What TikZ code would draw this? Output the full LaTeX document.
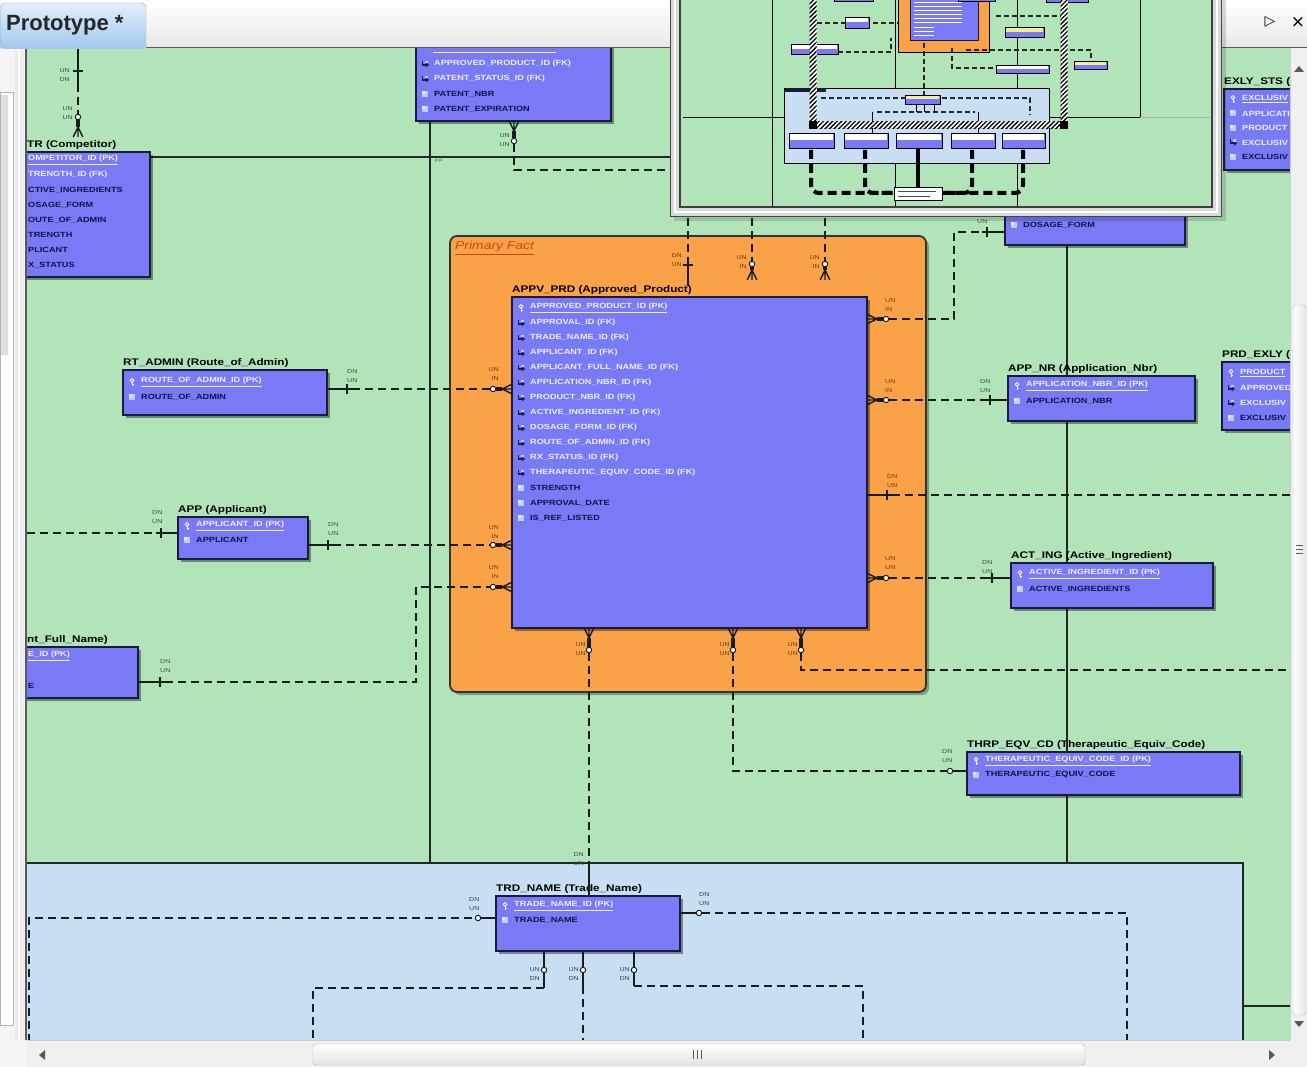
\documentclass[tikz,border=0pt]{standalone}
\usepackage{fontspec}
\setmainfont{Liberation Sans}
\newfontfamily\tf[FakeStretch=1.22]{Liberation Sans}
\newfontfamily\symf{DejaVu Sans}
\usetikzlibrary{patterns.meta}
\definecolor{canvasg}{RGB}{178,228,186}
\definecolor{areab}{RGB}{200,222,242}
\definecolor{pforange}{RGB}{250,162,72}
\definecolor{tblblue}{RGB}{122,122,246}
\definecolor{tblborder}{RGB}{26,26,58}
\definecolor{keytxt}{RGB}{238,238,255}
\definecolor{attrtxt}{RGB}{18,18,70}
\definecolor{lblg}{RGB}{60,78,62}
\definecolor{lblo}{RGB}{125,55,15}
\definecolor{lblb}{RGB}{55,65,85}
\definecolor{linec}{RGB}{24,28,30}
\definecolor{pftext}{RGB}{205,70,20}
\definecolor{attrc}{RGB}{184,208,250}
\definecolor{fkc}{RGB}{30,30,70}
\definecolor{pkc}{RGB}{250,245,200}
\definecolor{navyellow}{RGB}{240,238,150}
\definecolor{tabtop}{RGB}{226,240,252}
\definecolor{tabbot}{RGB}{160,200,236}
\definecolor{sbc}{RGB}{240,240,240}
\newcounter{lblc}
\def\errstep{15}
\tikzset{
  tblbox/.style={draw=tblborder,line width=1.9,fill=tblblue,anchor=north west,inner sep=0pt,outer sep=0pt},
  rowt/.style={anchor=west,inner sep=0pt,font=\tf\bfseries\fontsize{7.5}{8}\selectfont},
  ttl/.style={anchor=south west,inner sep=0pt,font=\tf\bfseries\fontsize{9.6}{10}\selectfont,text=black},
  lblt/.style={inner sep=0pt,font=\tf\fontsize{5.8}{9}\selectfont},
  rel/.style={line width=1.4,draw=linec},
  reld/.style={rel,dash pattern=on 8pt off 5pt},
  sline/.style={line width=1.3,draw=black!85},
  shadowc/.style={fill=black,opacity=0.4},
  nline/.style={line width=0.9,draw=black},
  ndash/.style={line width=1.3,draw=black!85,dash pattern=on 5pt off 3pt},
  nthick/.style={line width=4,draw=black,dash pattern=on 9pt off 5pt},
}
\newcommand{\pkico}[2]{%
  \begin{scope}[shift={({#1},{#2})}]
    \draw[pkc,line width=0.9] (0,-1.6) circle (1.8);
    \draw[pkc,line width=1] (0,0.3) -- (0,4) (0,2.6) -- (1.6,2.6);
  \end{scope}}
\newcommand{\fkico}[2]{%
  \begin{scope}[shift={({#1},{#2})}]
    \fill[fkc] (-3.5,-3) rectangle (-1.8,1.8);
    \fill[fkc] (-3.5,0) rectangle (1.5,1.8);
    \fill[fkc] (1,-1.5) -- (4,0.9) -- (1,3.3) -- cycle;
    \fill[attrc] (0,-3.4) rectangle (3.2,-0.9);
  \end{scope}}
\newcommand{\atico}[2]{%
  \begin{scope}[shift={({#1},{#2})}]
    \fill[attrc] (-3,-3) rectangle (3,3);
    \fill[white,opacity=0.6] (-3,-3) rectangle (0,0);
  \end{scope}}
\newcommand{\ertrk}[4]{\node[rowt,text=keytxt] (#1) at ({#2+18},{#3}) {\underline{#4}};\pkico{#2+9}{#3}}
\newcommand{\ertrf}[4]{\node[rowt,text=keytxt] (#1) at ({#2+18},{#3}) {#4};\fkico{#2+9}{#3}}
\newcommand{\ertra}[4]{\node[rowt,text=attrtxt] (#1) at ({#2+18},{#3}) {#4};\atico{#2+9}{#3}}
\newcommand{\ertrw}[4]{\node[rowt,text=keytxt] (#1) at ({#2+18},{#3}) {#4};\atico{#2+9}{#3}}
% name, x, y, w, h, title, first row offset, rows
\newcommand{\ertable}[8]{%
  \fill[shadowc] ({#2+3},{#3+3}) rectangle ({#2+#4+3},{#3+#5+3});
  \node[tblbox,minimum width=#4,minimum height=#5] (#1) at (#2,#3) {};
  \node[ttl] (#1-t) at ({max(#2,27)},{#3-2.5}) {#6};
  \foreach \ty/\tx [count=\i] in {#8} {%
    \pgfmathsetmacro\ry{#3+#7+\errstep*(\i-1)}%
    \csname ertr\ty\endcsname{#1-r\i}{#2}{\ry}{\tx}%
  }}
\newcommand{\crowsym}[4]{%
  \begin{scope}[shift={(#1,#2)},rotate=#3]
    \draw[line width=1.4,linec] ({#4-10},0) -- (#4,-4.8) ({#4-10},0) -- (#4,0) ({#4-10},0) -- (#4,4.8);
    \fill[linec] (2.5,-2.4) rectangle ({#4-10},2.4);
    \draw[line width=1,linec,fill=white] (0,0) circle (2.7);
  \end{scope}}
\newcommand{\tkv}[2]{\draw[line width=1.4,linec] (#1,{#2-5}) -- (#1,{#2+5});}
\newcommand{\tkh}[2]{\draw[line width=1.4,linec] ({#1-5},#2) -- ({#1+5},#2);}
\newcommand{\optc}[2]{\draw[line width=1,linec,fill=white] (#1,#2) circle (2.7);}
\newcommand{\lblL}[5]{\stepcounter{lblc}\node[lblt,align=left,anchor=north west,text=#5] (lb\arabic{lblc}) at (#1,{#2-3}) {#3\\#4};}
\newcommand{\lblR}[5]{\stepcounter{lblc}\node[lblt,align=right,anchor=north east,text=#5] (lb\arabic{lblc}) at (#1,{#2-3}) {#3\\#4};}
\newcommand{\navtbl}[5]{\draw[black,line width=0.8,fill=tblblue] (#1,#2) rectangle (#3,#4);\fill[#5] ({#1+1},{#2+1}) rectangle ({#3-1},{(#2+#4)/2});}

\begin{document}
\begin{tikzpicture}[x=1pt,y=-1pt]
\useasboundingbox (0,0) rectangle (1307,1067);
% canvas
\fill[canvasg] (27,48) rectangle (1290,1040);
\fill[areab] (27,863) rectangle (1243,1040);
\draw[sline] (27,863) -- (1243,863) -- (1243,1040);
\draw[sline] (1243,1006) -- (1290,1006);
\draw[sline] (430,121) -- (430,863);
\draw[sline] (150,157) -- (700,157);
\draw[sline] (1067,245) -- (1067,863);
\node[lblt,anchor=west,text=lblg,font=\tf\fontsize{4}{4}\selectfont] (pp) at (435,161) {p.p};
% primary fact group
\fill[black,opacity=0.3,rounded corners=7] (453,239) rectangle (929,695);
\draw[line width=1.8,draw=black!80,fill=pforange,rounded corners=7] (450,236) rectangle (926,692);
\node[anchor=west,inner sep=0pt,font=\tf\itshape\fontsize{11.4}{12}\selectfont,text=pftext] (pflbl) at (455,248) {\underline{Primary Fact}};

% connectors (lines)
\coordinate (tlfree) at (78,48);
\draw[rel] (tlfree) -- (78,84);
\draw[reld] (78,84) -- (78,114);
\draw[reld] (514,144) -- (514,170) -- (700,170);
\coordinate (applfree) at (27,533);
\draw[reld] (applfree) -- (156,533);
\draw[reld] (165,682) -- (416,682) -- (416,587) -- (491,587);
\draw[reld] (352,389) -- (491,389);
\draw[reld] (333,545) -- (491,545);
\draw[reld] (889,319) -- (954,319) -- (954,232) -- (982,232);
\draw[reld] (889,400) -- (985,400);
\draw[reld] (892,495) -- (1292,495);
\draw[reld] (889,578) -- (987,578);
\draw[reld] (688,205) -- (688,258);
\draw[rel] (688,258) -- (688,286);
\draw[reld] (752,205) -- (752,261);
\draw[reld] (825,205) -- (825,261);
\draw[reld] (589,653) -- (589,868);
\draw[reld] (733,653) -- (733,771) -- (947,771);
\draw[reld] (801,653) -- (801,670) -- (1292,670);
\draw[reld] (29,1042) -- (29,918) -- (475,918);
\draw[reld] (702,913) -- (1127,913) -- (1127,1042);
\draw[reld] (544,988) -- (313,988) -- (313,1042);
\draw[reld] (583,986) -- (583,1042);
\draw[reld] (634,986) -- (863,986) -- (863,1042);

% tables
\ertable{cmptr}{10}{152}{140}{125}{TR (Competitor)}{8}{k/OMPETITOR\_ID (PK),f/TRENGTH\_ID (FK),a/CTIVE\_INGREDIENTS,a/OSAGE\_FORM,a/OUTE\_OF\_ADMIN,a/TRENGTH,a/PLICANT,a/X\_STATUS}
\ertable{patent}{416}{30}{195}{91}{}{34}{f/APPROVED\_PRODUCT\_ID (FK),f/PATENT\_STATUS\_ID (FK),a/PATENT\_NBR,a/PATENT\_EXPIRATION}
\draw[keytxt,line width=0.8] (433,52) -- (556,52);
\ertable{rtadmin}{123}{370}{204}{45}{RT\_ADMIN (Route\_of\_Admin)}{12}{k/ROUTE\_OF\_ADMIN\_ID (PK),a/ROUTE\_OF\_ADMIN}
\def\errstep{14}
\ertable{app}{178}{517}{130}{42}{APP (Applicant)}{9}{k/APPLICANT\_ID (PK),a/APPLICANT}
\def\errstep{15}
\ertable{appfn}{10}{647}{128}{51}{nt\_Full\_Name)}{9}{k/E\_ID (PK),a/,a/E}
\ertable{appv}{512}{297}{355}{331}{APPV\_PRD (Approved\_Product)}{11}{k/APPROVED\_PRODUCT\_ID (PK),f/APPROVAL\_ID (FK),f/TRADE\_NAME\_ID (FK),f/APPLICANT\_ID (FK),f/APPLICANT\_FULL\_NAME\_ID (FK),f/APPLICATION\_NBR\_ID (FK),f/PRODUCT\_NBR\_ID (FK),f/ACTIVE\_INGREDIENT\_ID (FK),f/DOSAGE\_FORM\_ID (FK),f/ROUTE\_OF\_ADMIN\_ID (FK),f/RX\_STATUS\_ID (FK),f/THERAPEUTIC\_EQUIV\_CODE\_ID (FK),a/STRENGTH,a/APPROVAL\_DATE,a/IS\_REF\_LISTED}
\ertable{dosage}{1005}{185}{180}{60}{}{40}{a/DOSAGE\_FORM}
\ertable{appnr}{1008}{376}{187}{45}{APP\_NR (Application\_Nbr)}{10}{k/APPLICATION\_NBR\_ID (PK),a/APPLICATION\_NBR}
\ertable{actin}{1011}{563}{202}{45}{ACT\_ING (Active\_Ingredient)}{11}{k/ACTIVE\_INGREDIENT\_ID (PK),a/ACTIVE\_INGREDIENTS}
\def\errstep{14}
\ertable{thrp}{967}{752}{273}{43}{THRP\_EQV\_CD (Therapeutic\_Equiv\_Code)}{9}{k/THERAPEUTIC\_EQUIV\_CODE\_ID (PK),a/THERAPEUTIC\_EQUIV\_CODE}
\ertable{trd}{496}{896}{184}{55}{TRD\_NAME (Trade\_Name)}{10}{k/TRADE\_NAME\_ID (PK),a/TRADE\_NAME}
\def\errstep{14.5}
\ertable{exly}{1224}{89}{90}{81}{EXLY\_STS (}{10}{k/EXCLUSIV,w/APPLICATI,w/PRODUCT,f/EXCLUSIV,a/EXCLUSIV}
\def\errstep{15}
\ertable{prdexly}{1222}{362}{90}{68}{PRD\_EXLY (}{11}{k/PRODUCT,f/APPROVED,f/EXCLUSIV,a/EXCLUSIV}

% solid stubs attached to tables
\draw[rel] (rtadmin.east |- 0,389) -- (352,389);
\draw[rel] (app.east |- 0,545) -- (333,545);
\draw[rel] (156,533) -- (app.west |- 0,533);
\draw[rel] (appfn.east |- 0,682) -- (165,682);
\draw[rel] (982,232) -- (dosage.west |- 0,232);
\draw[rel] (985,400) -- (appnr.west |- 0,400);
\draw[rel] (appv.east |- 0,495) -- (892,495);
\draw[rel] (987,578) -- (actin.west |- 0,578);
\draw[rel] (589,868) -- (trd.north -| 589,0);
\draw[rel] (953,771) -- (thrp.west |- 0,771);
\draw[rel] (481,918) -- (trd.west |- 0,918);
\draw[rel] (trd.east |- 0,913) -- (696,913);
\draw[rel] (trd.south -| 544,0) -- (544,967) (544,973) -- (544,988);
\draw[rel] (trd.south -| 583,0) -- (583,967) (583,973) -- (583,986);
\draw[rel] (trd.south -| 634,0) -- (634,967) (634,973) -- (634,986);

% relationship ends
\crowsym{78}{117}{-90}{20} \tkh{78}{71}
\crowsym{514}{141}{90}{20}
\tkv{347}{389} \crowsym{493}{389}{0}{19}
\tkv{328}{545} \crowsym{493}{545}{0}{19}
\tkv{161}{533}
\tkv{160}{682} \crowsym{493}{587}{0}{19}
\crowsym{886}{319}{180}{19} \tkv{987}{232}
\crowsym{886}{400}{180}{19} \tkv{990}{400}
\tkv{887}{495}
\crowsym{886}{578}{180}{19} \tkv{992}{578}
\tkh{688}{265}
\crowsym{752}{264}{-90}{16} \crowsym{825}{264}{-90}{16}
\crowsym{589}{650}{90}{22} \crowsym{733}{650}{90}{22} \crowsym{801}{650}{90}{22}
\optc{950}{771}
\optc{478}{918} \optc{699}{913}
\optc{544}{970} \optc{583}{970} \optc{634}{970}

% cardinality labels
\lblR{70}{71}{UN}{DN}{lblg}
\lblR{73}{109}{UN}{UN}{lblg}
\lblR{510}{136}{UN}{UN}{lblg}
\lblL{347}{372}{DN}{UN}{lblg}
\lblR{499}{370}{UN}{IN}{lblo}
\lblL{152}{513}{DN}{UN}{lblg}
\lblL{328}{525}{DN}{UN}{lblg}
\lblR{499}{528}{UN}{IN}{lblo}
\lblR{499}{568}{UN}{IN}{lblo}
\lblL{160}{662}{DN}{UN}{lblg}
\lblL{977}{222}{UN}{}{lblg}
\lblL{885}{301}{UN}{IN}{lblo}
\lblL{885}{382}{UN}{IN}{lblo}
\lblL{980}{382}{DN}{UN}{lblg}
\lblL{887}{477}{DN}{UN}{lblo}
\lblL{885}{559}{UN}{UN}{lblo}
\lblL{982}{563}{DN}{UN}{lblg}
\lblL{942}{752}{DN}{UN}{lblg}
\lblR{682}{256}{DN}{UN}{lblo}
\lblR{747}{258}{UN}{IN}{lblo}
\lblR{820}{258}{UN}{IN}{lblo}
\lblR{586}{645}{UN}{UN}{lblo}
\lblR{730}{645}{UN}{UN}{lblo}
\lblR{798}{645}{UN}{UN}{lblo}
\lblR{584}{855}{DN}{UN}{lblg}
\lblL{469}{900}{DN}{UN}{lblb}
\lblL{699}{895}{DN}{UN}{lblb}
\lblR{540}{970}{UN}{DN}{lblb}
\lblR{579}{970}{UN}{DN}{lblb}
\lblR{630}{970}{UN}{DN}{lblb}

% left panel
\fill[gray!8] (0,48) rectangle (27,1067);
\draw[gray!60,fill=white] (0.5,92) rectangle (13,1025);
\fill[gray!25] (1,95) rectangle (8,355);
\fill[gray!15] (15,50) rectangle (24,1040);
\draw[white,line width=1.5] (19,50) -- (19,1040);
\draw[gray!70!black,line width=1.5] (26,48) -- (26,1040);
% bottom scrollbar
\fill[sbc] (27,1040) rectangle (1307,1067);
\draw[gray!40] (27,1040.5) -- (1290,1040.5);
\shade[top color=white,bottom color=gray!22,rounded corners=3] (313,1044) rectangle (1085,1065);
\draw[gray!60,rounded corners=3] (313,1044) rectangle (1085,1065);
\foreach \gx in {693,697,701} \draw[gray!70!black] (\gx,1050) -- (\gx,1059);
\fill[gray!70!black] (39,1055) -- (45,1050) -- (45,1060) -- cycle;
\fill[gray!70!black] (1275,1055) -- (1269,1050) -- (1269,1060) -- cycle;
% right scrollbar
\fill[sbc] (1290,48) rectangle (1307,1040);
\draw[gray!40] (1290.5,48) -- (1290.5,1040);
\fill[gray!70!black] (1299,66) -- (1294,72) -- (1304,72) -- cycle;
\shade[left color=white,right color=gray!20,rounded corners=3] (1293,305) rectangle (1306,1015);
\draw[gray!55,rounded corners=3] (1293,305) rectangle (1306,1015);
\foreach \gy in {545,549,553} \draw[gray!70!black] (1296,\gy) -- (1303,\gy);
\fill[gray!70!black] (1299,1027) -- (1294,1021) -- (1304,1021) -- cycle;
% top bar and tab
\shade[top color=white,bottom color=gray!18] (0,0) rectangle (1307,48);
\draw[gray!70!black,line width=1.2] (146,47.5) -- (1307,47.5);
\shade[top color=tabtop,bottom color=tabbot,rounded corners=4] (0,49) -- (0,3) -- (146,3) -- (146,49) -- cycle;
\draw[gray!70,rounded corners=4] (0.5,49) -- (0.5,3) -- (146,3) -- (146,49);
\node[anchor=west,inner sep=0pt,font=\bfseries\fontsize{22}{24}\selectfont,text=black!85] (tab) at (6,25) {Prototype *};
\node[inner sep=0pt,font=\symf\fontsize{14}{14}\selectfont] (tri) at (1270,22) {▷};
\node[inner sep=0pt,font=\symf\fontsize{17}{17}\selectfont] (xbtn) at (1298,22) {×};

% navigator overlay
\fill[black,opacity=0.15] (674,0) rectangle (1226,221);
\draw[gray!55!black,fill=gray!30] (670.5,-2) rectangle (1221.5,216.5);
\draw[white,line width=1.5] (675,-2) -- (675,212) -- (1217,212) -- (1217,-2);
\fill[canvasg] (680,-2) rectangle (1212,207);
\begin{scope}
\clip (680,-2) rectangle (1212,207);
\draw[nline] (772,-2) -- (772,207);
\draw[nline] (895,-2) -- (895,207);
\draw[nline] (1017,-2) -- (1017,207);
\draw[nline] (1140,-2) -- (1140,117) -- (1049,117);
\draw[nline] (683,117) -- (784,117);
\draw[gray!60,line width=0.6] (1140,117) -- (1212,117);
\draw[nline,fill=areab] (784,88) rectangle (1049,163);
\fill[tblborder] (785,88.5) rectangle (826,92);
\draw[nline,fill=pforange] (898,-3) rectangle (989,52);
\draw[tblborder,line width=1,fill=tblblue] (910,-3) rectangle (978,41);
\foreach \yy in {2,6,10,14,18,22} \draw[white,line width=0.9] (914,\yy) -- (962,\yy);
\foreach \yy in {27,31,35} \draw[white,line width=0.9] (914,\yy) -- (934,\yy);
% dashed
\draw[ndash] (817,23) -- (898,23);
\draw[ndash] (838,52) -- (891,52) -- (891,38);
\draw[ndash] (924,43) -- (924,95);
\draw[ndash] (952,48) -- (952,68) -- (996,68);
\draw[ndash] (966,50) -- (1091,50) -- (1091,62);
\draw[ndash] (996,16) -- (1063,16);
\draw[ndash] (821,98) -- (905,98);
\draw[ndash] (942,98) -- (1030,98) -- (1030,115);
\draw[ndash] (877,112) -- (975,112);
\draw[nline] (872,112) -- (872,133) (978,112) -- (978,133);
\draw[nline] (916,104) -- (916,112) (924,104) -- (924,112) (934,104) -- (934,112);
% small tables
\navtbl{834}{-3}{873}{1}{navyellow}
\navtbl{958}{-3}{995}{1}{navyellow}
\navtbl{1046}{-3}{1088}{2}{navyellow}
\navtbl{845}{17}{869}{28}{white}
\navtbl{791}{44}{838}{54}{white}
\navtbl{1005}{27}{1044}{37}{navyellow}
\navtbl{996}{65}{1049}{73}{white}
\navtbl{1074}{61}{1107}{69}{navyellow}
\navtbl{905}{95}{940}{104}{navyellow}
\navtbl{789}{133}{834}{148}{white}
\navtbl{844}{133}{888}{148}{white}
\navtbl{896}{133}{942}{148}{white}
\navtbl{951}{133}{995}{148}{white}
\navtbl{1002}{133}{1045}{148}{white}
% hatched viewport
\fill[white] (809.5,-3) rectangle (816.5,128.5);
\fill[white] (1060.5,-3) rectangle (1067.5,128.5);
\fill[white] (813,121.5) rectangle (1064,128.5);
\fill[pattern={Lines[angle=45,distance=3.2pt,line width=1.3pt]},pattern color=black] (809.5,-3) rectangle (816.5,128.5);
\fill[pattern={Lines[angle=45,distance=3.2pt,line width=1.3pt]},pattern color=black] (1060.5,-3) rectangle (1067.5,128.5);
\fill[pattern={Lines[angle=45,distance=3.2pt,line width=1.3pt]},pattern color=black] (813,121.5) rectangle (1064,128.5);
\fill[black] (809,121) rectangle (817,129);
\fill[black] (1060,121) rectangle (1068,129);
% thick bottom connectors
\draw[nthick,rounded corners=8] (811,150) -- (811,193) -- (894,193);
\draw[nthick,rounded corners=8] (865,150) -- (865,193) -- (894,193);
\draw[line width=4,black] (918,148) -- (918,187);
\draw[nthick,rounded corners=8] (972,150) -- (972,193) -- (942,193);
\draw[nthick,rounded corners=8] (1023,150) -- (1023,193) -- (942,193);
\draw[black,line width=0.8,fill=white] (894,187) rectangle (942,200);
\draw[black!70,line width=0.8] (898,191) -- (936,191) (898,196) -- (930,196);
\end{scope}
\draw[black!75,line width=1.2] (680,-2) -- (680,207) -- (1212,207) -- (1212,-2);
\end{tikzpicture}
\end{document}
